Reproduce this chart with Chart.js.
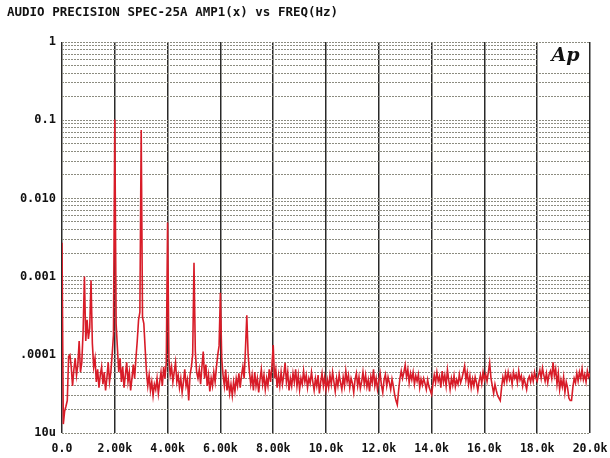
<!DOCTYPE html>
<html>
<head>
<meta charset="utf-8">
<script src="https://cdn.jsdelivr.net/npm/chart.js@4.4.1/dist/chart.umd.min.js"></script>
<style>
html,body{margin:0;padding:0;background:#fff;}
canvas{display:block;}
</style>
</head>
<body>
<canvas id="c" width="610" height="458"></canvas>
<script>
// ---- chart data ----
const chartTitle = "AUDIO PRECISION SPEC-25A AMP1(x) vs FREQ(Hz)";
const binHz = 50; // FFT bin spacing of the amplitude series
// AMP1 amplitude per 50 Hz bin, 0 Hz .. 20 kHz (20 values per 1 kHz line)
const amplitude = [
  2.7e-3,1.3e-5,1.9e-5,2.2e-5,2.6e-5,9.5e-5,1.0e-4,7.0e-5,4.0e-5,6.5e-5,9.0e-5,5.5e-5,7.5e-5,1.5e-4,6.0e-5,8.0e-5,2.0e-4,1.0e-3,1.5e-4,2.8e-4,
  1.6e-4,2.2e-4,9.0e-4,1.4e-4,7.0e-5,9.0e-5,4.5e-5,6.5e-5,3.8e-5,5.5e-5,7.0e-5,4.2e-5,6.0e-5,3.5e-5,5.0e-5,8.0e-5,4.5e-5,6.0e-5,1.0e-4,1.8e-4,
  0.102,2.5e-4,1.2e-4,6.0e-5,9.0e-5,4.5e-5,7.0e-5,3.8e-5,5.5e-5,8.0e-5,4.5e-5,6.0e-5,3.5e-5,5.0e-5,7.5e-5,5.0e-5,9.0e-5,1.5e-4,2.8e-4,3.5e-4,
  0.075,3.0e-4,2.5e-4,1.2e-4,6.0e-5,4.0e-5,5.5e-5,3.5e-5,4.5e-5,3.0e-5,4.2e-5,3.6e-5,5.0e-5,3.2e-5,4.5e-5,6.0e-5,4.0e-5,7.0e-5,5.0e-5,8.0e-5,
  4.9e-3,9.0e-5,5.5e-5,7.0e-5,4.5e-5,6.0e-5,8.0e-5,4.5e-5,5.5e-5,3.8e-5,5.0e-5,3.3e-5,4.5e-5,6.5e-5,4.0e-5,4.8e-5,2.6e-5,5.5e-5,7.0e-5,1.0e-4,
  1.5e-3,1.1e-4,6.0e-5,5.0e-5,6.5e-5,4.2e-5,7.0e-5,1.1e-4,5.0e-5,7.5e-5,4.0e-5,5.5e-5,3.4e-5,5.0e-5,4.0e-5,6.0e-5,4.5e-5,7.0e-5,1.0e-4,1.3e-4,
  6.2e-4,9.0e-5,5.5e-5,4.0e-5,6.5e-5,3.5e-5,4.8e-5,3.2e-5,4.2e-5,3.0e-5,4.5e-5,3.4e-5,5.0e-5,4.0e-5,5.8e-5,3.8e-5,5.5e-5,7.0e-5,5.0e-5,1.2e-4,
  3.2e-4,1.0e-4,6.0e-5,4.2e-5,5.5e-5,3.5e-5,6.0e-5,4.0e-5,5.0e-5,3.3e-5,4.8e-5,6.5e-5,4.2e-5,5.5e-5,3.6e-5,5.0e-5,4.0e-5,6.5e-5,4.5e-5,7.0e-5,
  1.33e-4,5.0e-5,6.5e-5,3.8e-5,5.5e-5,4.0e-5,6.0e-5,4.2e-5,5.5e-5,7.9e-5,4.5e-5,6.0e-5,3.5e-5,5.0e-5,4.0e-5,5.8e-5,4.5e-5,6.5e-5,4.0e-5,5.5e-5,
  3.6e-5,5.0e-5,4.2e-5,6.2e-5,4.5e-5,5.5e-5,3.8e-5,5.0e-5,4.3e-5,6.0e-5,4.5e-5,3.5e-5,5.0e-5,4.0e-5,5.5e-5,3.2e-5,4.5e-5,5.8e-5,4.0e-5,5.2e-5,
  3.6e-5,4.8e-5,3.8e-5,5.5e-5,4.2e-5,6.0e-5,4.5e-5,3.4e-5,5.0e-5,4.0e-5,5.6e-5,4.4e-5,3.6e-5,5.2e-5,4.0e-5,6.2e-5,4.5e-5,5.5e-5,3.8e-5,5.0e-5,
  4.3e-5,3.3e-5,4.8e-5,5.8e-5,4.0e-5,5.2e-5,3.7e-5,4.5e-5,6.0e-5,4.2e-5,5.5e-5,3.9e-5,4.8e-5,3.4e-5,5.3e-5,4.4e-5,6.5e-5,4.0e-5,5.0e-5,3.6e-5,
  4.6e-5,5.8e-5,4.1e-5,3.3e-5,4.8e-5,5.6e-5,4.0e-5,5.2e-5,4.4e-5,3.6e-5,4.9e-5,4.0e-5,3.1e-5,2.6e-5,2.3e-5,3.5e-5,5.0e-5,6.2e-5,5.0e-5,6.0e-5,
  7.4e-5,5.2e-5,6.5e-5,4.4e-5,5.8e-5,4.8e-5,6.0e-5,4.2e-5,5.4e-5,4.6e-5,5.6e-5,3.8e-5,4.9e-5,4.1e-5,5.0e-5,4.3e-5,3.6e-5,4.8e-5,3.9e-5,3.5e-5,
  3.1e-5,4.2e-5,5.5e-5,4.4e-5,6.0e-5,4.6e-5,5.3e-5,3.8e-5,6.2e-5,4.5e-5,5.5e-5,4.0e-5,6.4e-5,4.7e-5,3.6e-5,5.0e-5,4.1e-5,5.4e-5,3.9e-5,4.8e-5,
  4.2e-5,5.6e-5,4.4e-5,5.0e-5,6.0e-5,7.2e-5,4.8e-5,6.0e-5,4.2e-5,5.4e-5,3.8e-5,4.9e-5,4.0e-5,5.2e-5,4.4e-5,3.5e-5,4.6e-5,5.5e-5,4.3e-5,6.0e-5,
  4.8e-5,5.6e-5,4.6e-5,6.0e-5,7.9e-5,5.0e-5,4.0e-5,3.2e-5,4.2e-5,3.5e-5,3.0e-5,2.8e-5,2.6e-5,3.8e-5,5.2e-5,4.4e-5,5.8e-5,4.6e-5,6.0e-5,4.8e-5,
  5.5e-5,4.2e-5,6.0e-5,5.0e-5,5.6e-5,4.4e-5,6.2e-5,4.8e-5,5.4e-5,4.0e-5,5.0e-5,4.3e-5,3.6e-5,4.8e-5,5.3e-5,4.5e-5,5.6e-5,4.6e-5,6.0e-5,5.0e-5,
  4.6e-5,5.5e-5,6.4e-5,5.0e-5,6.8e-5,5.5e-5,4.6e-5,5.8e-5,4.4e-5,5.6e-5,6.2e-5,5.0e-5,8.0e-5,5.4e-5,6.6e-5,4.2e-5,5.8e-5,3.6e-5,4.8e-5,3.9e-5,
  5.2e-5,3.3e-5,4.5e-5,3.8e-5,2.8e-5,2.6e-5,2.6e-5,3.8e-5,5.0e-5,4.4e-5,5.8e-5,4.6e-5,6.0e-5,5.0e-5,6.6e-5,4.8e-5,5.6e-5,4.5e-5,6.2e-5,5.2e-5,
  5.8e-5
];
// x axis ticks (Hz) and their labels
const xTickValues = [0,2000,4000,6000,8000,10000,12000,14000,16000,18000,20000];
const xTickLabels = ["0.0","2.00k","4.00k","6.00k","8.00k","10.0k","12.0k","14.0k","16.0k","18.0k","20.0k"];
// y axis decades and their labels
const yDecades = [1e-5,1e-4,1e-3,1e-2,1e-1,1];
const yDecadeLabels = ["10u",".0001","0.001","0.010","0.1","1"];
const yMinorSteps = [1,2,3,4,5,6,7,8,9];

// ---- build table ----
const points = amplitude.map((v,i)=>({x:i*binHz, y:v}));
const yGridValues = [];
yDecades.forEach((d,k)=>{
  if (k === yDecades.length-1) { yGridValues.push(d); return; }
  yMinorSteps.forEach(m=>yGridValues.push(+(d*m).toPrecision(3)));
});
function decadeLabel(v){
  for (let k=0;k<yDecades.length;k++){
    if (Math.abs(Math.log10(v)-Math.log10(yDecades[k]))<1e-6) return yDecadeLabels[k];
  }
  return "";
}

const monoFont = "'DejaVu Sans Mono', 'Liberation Mono', monospace";

const apBox = {
  id:'apBox',
  beforeDatasetsDraw(chart){
    const {ctx, chartArea, scales} = chart;
    const x0 = scales.x.getPixelForValue(18000) + 1;
    const x1 = chartArea.right - 1;
    const y0 = chartArea.top + 1;
    const y1 = chartArea.top + 26;
    ctx.save();
    ctx.fillStyle = '#ffffff';
    ctx.fillRect(x0, y0, x1-x0, y1-y0);
    ctx.fillStyle = '#111';
    ctx.font = "italic bold 19px 'DejaVu Serif', serif";
    ctx.textAlign = 'center';
    ctx.textBaseline = 'middle';
    ctx.fillText('Ap', (x0+x1)/2 + 2, (y0+y1)/2 + 1);
    ctx.restore();
  }
};

new Chart(document.getElementById('c'), {
  type:'line',
  data:{
    datasets:[{
      data:points,
      borderColor:'#d81c28',
      borderWidth:1.6,
      pointRadius:0,
      tension:0,
      fill:false
    }]
  },
  options:{
    responsive:false,
    animation:false,
    events:[],
    layout:{padding:{left:7,right:20,top:0,bottom:0}},
    plugins:{
      legend:{display:false},
      tooltip:{enabled:false},
      title:{
        display:true,
        text:chartTitle,
        align:'start',
        color:'#111',
        font:{family:monoFont, size:12.5, weight:'bold'},
        padding:{top:5, bottom:22}
      }
    },
    scales:{
      x:{
        type:'linear',
        min:0, max:20000,
        afterBuildTicks(scale){ scale.ticks = xTickValues.map(v=>({value:v})); },
        afterFit(scale){ scale.height = 25; scale.paddingLeft = 0; scale.paddingRight = 0; },
        ticks:{
          callback:(v)=>xTickLabels[xTickValues.indexOf(v)],
          color:'#111',
          font:{family:monoFont, size:11.5, weight:'bold'},
          padding:9,
          maxRotation:0,
          autoSkip:false
        },
        grid:{color:'#2a2a2a', lineWidth:1.5, drawTicks:false},
        border:{display:false}
      },
      y:{
        type:'logarithmic',
        min:1e-5, max:1,
        afterBuildTicks(scale){ scale.ticks = yGridValues.map(v=>({value:v})); },
        afterFit(scale){ scale.width = 55; scale.paddingTop = 0; scale.paddingBottom = 0; },
        ticks:{
          callback:(v)=>decadeLabel(v),
          color:'#111',
          font:{family:monoFont, size:12, weight:'bold'},
          padding:6,
          autoSkip:false
        },
        grid:{color:'#8c8c80', lineWidth:1, drawTicks:false},
        border:{display:false, dash:[2,1]}
      }
    }
  },
  plugins:[apBox]
});
</script>
</body>
</html>
